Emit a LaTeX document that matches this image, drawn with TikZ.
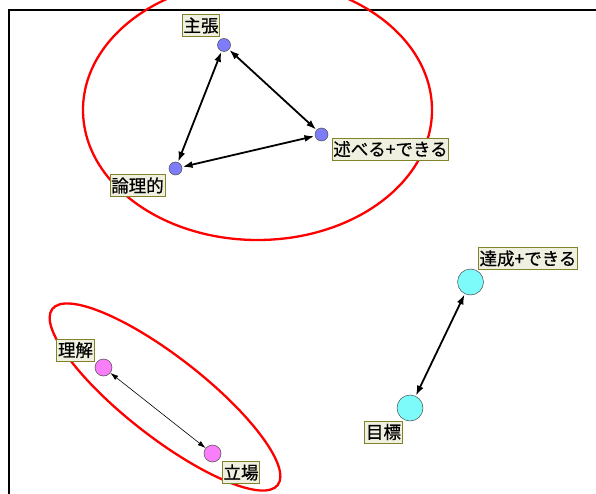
\documentclass[tikz,border=0pt]{standalone}
\usepackage{fontspec}
\newfontfamily\jp[FakeBold=0.6]{Noto Sans CJK JP}
\usetikzlibrary{arrows.meta}
\tikzset{
  x=1pt,y=-1pt,
  vtx/.style={circle,draw=black!70,line width=0.5pt,inner sep=0pt},
  blue/.style={vtx,fill={rgb,255:red,125;green,125;blue,250},minimum size=13pt},
  pink/.style={vtx,fill={rgb,255:red,250;green,125;blue,250},minimum size=17pt},
  cyan/.style={vtx,fill={rgb,255:red,125;green,250;blue,250},minimum size=26pt},
  lbl/.style={draw={rgb,255:red,130;green,130;blue,40},line width=0.9pt,fill={rgb,255:red,240;green,240;blue,225},inner sep=1.2pt,minimum height=22pt,font=\jp\fontsize{17.5}{19}\selectfont,text=black},
  edge/.style={line width=1.8pt,{Latex[length=10pt,width=7pt]}-{Latex[length=10pt,width=7pt]},shorten <=0.5pt,shorten >=0.5pt},
  thinedge/.style={line width=0.6pt,{Latex[length=8pt,width=5pt]}-{Latex[length=8pt,width=5pt]}},
  grp/.style={draw=red,line width=2.3pt}
}
\begin{document}
\begin{tikzpicture}
\useasboundingbox (0,0) rectangle (596,494);
\fill[white] (0,0) rectangle (596,494);
% frame
\draw[line width=2pt,black] (9,494) -- (9,10) -- (596,10);
% groups
\draw[grp] (257.5,110) ellipse [x radius=174.5, y radius=130];
\draw[grp] (165,397) ellipse [x radius=143, y radius=40, rotate=-38];
% vertices
\node[blue] (shucho) at (224,45) {};
\node[blue] (noberu) at (321.5,134.5) {};
\node[blue] (ronri) at (175.5,168.5) {};
\node[pink] (rikai) at (103.5,367.5) {};
\node[pink] (tachiba) at (212.5,453.5) {};
\node[cyan] (tassei) at (470.5,282) {};
\node[cyan] (mokuhyo) at (410,408) {};
% edges
\draw[edge] (shucho) -- (noberu);
\draw[edge] (shucho) -- (ronri);
\draw[edge] (noberu) -- (ronri);
\draw[thinedge] (rikai) -- (tachiba);
\draw[edge] (tassei) -- (mokuhyo);
% labels
\node[lbl] (lshucho) at (201,25.5) {主張};
\node[lbl] (lnoberu) at (390.5,149) {述べる+できる};
\node[lbl] (lronri) at (137.5,185.5) {論理的};
\node[lbl] (lrikai) at (75.5,350) {理解};
\node[lbl] (ltachiba) at (241,472.5) {立場};
\node[lbl] (ltassei) at (528,258.5) {達成+できる};
\node[lbl] (lmokuhyo) at (383.5,432) {目標};
\end{tikzpicture}
\end{document}
